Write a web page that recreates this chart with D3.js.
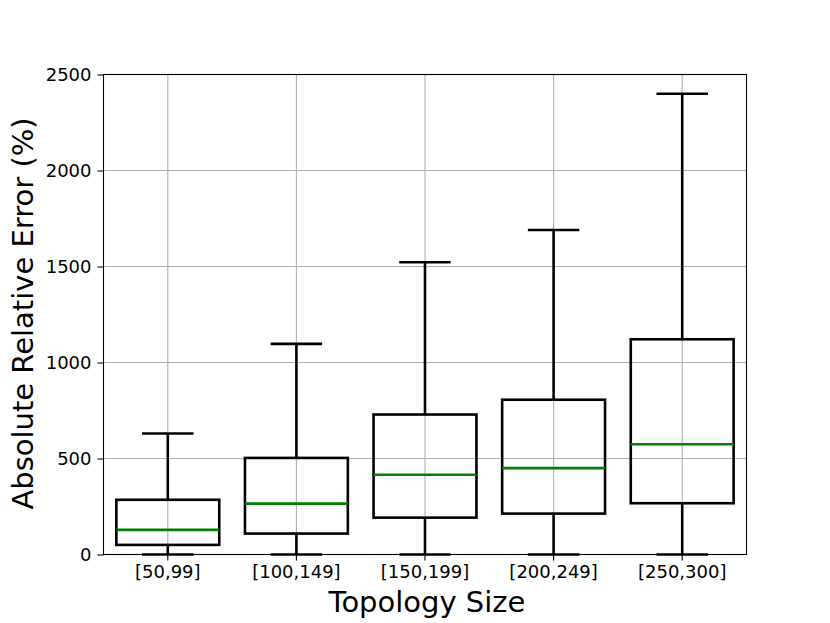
<!DOCTYPE html>
<html>
<head>
<meta charset="utf-8">
<script src="https://cdn.jsdelivr.net/npm/d3@7"></script>
<style>
    body { margin: 0; background: #fff; }
    text { font-family: "DejaVu Sans", sans-serif; fill: #000; }
</style>
</head>
<body>
<svg id="chart" width="830" height="623"></svg>
<script>
    // box stats
    const categories = ["[50,99]", "[100,149]", "[150,199]", "[200,249]", "[250,300]"];
    const whiskerLow = [0, 0, 0, 0, 0];
    const q1 = [50, 109, 192, 213, 267];
    const median = [128, 265, 415, 450, 574];
    const q3 = [285, 503, 729, 806, 1121];
    const whiskerHigh = [630, 1097, 1522, 1690, 2400];
    const yTicks = [0, 500, 1000, 1500, 2000, 2500];

    const boxes = categories.map((c, i) => ({
        cat: c,
        lo: whiskerLow[i],
        q1: q1[i],
        med: median[i],
        q3: q3[i],
        hi: whiskerHigh[i],
    }));

    const margin = { top: 74.5, right: 83.5, bottom: 68.5, left: 103.5 };
    const width = 830 - margin.left - margin.right;
    const height = 623 - margin.top - margin.bottom;

    const svg = d3.select("#chart");
    const g = svg.append("g")
        .attr("transform", `translate(${margin.left},${margin.top})`);

    const x = d3.scaleBand()
        .domain(categories)
        .range([0, width])
        .paddingInner(0.2)
        .paddingOuter(0.1);

    const y = d3.scaleLinear()
        .domain([0, 2500])
        .range([height, 0]);

    const cx = (d) => x(d.cat) + x.bandwidth() / 2;
    const capHalf = x.bandwidth() / 4;

    // grid
    g.append("g")
        .selectAll("line.hgrid")
        .data(yTicks)
        .enter()
        .append("line")
        .attr("x1", 0)
        .attr("x2", width)
        .attr("y1", (d) => y(d))
        .attr("y2", (d) => y(d))
        .attr("stroke", "#b0b0b0")
        .attr("stroke-width", 1.1);

    g.append("g")
        .selectAll("line.vgrid")
        .data(categories)
        .enter()
        .append("line")
        .attr("x1", (d) => x(d) + x.bandwidth() / 2)
        .attr("x2", (d) => x(d) + x.bandwidth() / 2)
        .attr("y1", 0)
        .attr("y2", height)
        .attr("stroke", "#b0b0b0")
        .attr("stroke-width", 1.1);

    // boxes
    const bx = g.append("g")
        .selectAll("g.box")
        .data(boxes)
        .enter()
        .append("g")
        .attr("class", "box");

    // whiskers
    bx.append("line")
        .attr("x1", cx).attr("x2", cx)
        .attr("y1", (d) => y(d.q3)).attr("y2", (d) => y(d.hi))
        .attr("stroke", "#000").attr("stroke-width", 2.6);
    bx.append("line")
        .attr("x1", cx).attr("x2", cx)
        .attr("y1", (d) => y(d.q1)).attr("y2", (d) => y(d.lo))
        .attr("stroke", "#000").attr("stroke-width", 2.6);

    // caps
    bx.append("line")
        .attr("x1", (d) => cx(d) - capHalf).attr("x2", (d) => cx(d) + capHalf)
        .attr("y1", (d) => y(d.hi)).attr("y2", (d) => y(d.hi))
        .attr("stroke", "#000").attr("stroke-width", 2.6);
    bx.append("line")
        .attr("x1", (d) => cx(d) - capHalf).attr("x2", (d) => cx(d) + capHalf)
        .attr("y1", (d) => y(d.lo)).attr("y2", (d) => y(d.lo))
        .attr("stroke", "#000").attr("stroke-width", 2.6);

    bx.append("rect")
        .attr("x", (d) => x(d.cat))
        .attr("width", x.bandwidth())
        .attr("y", (d) => y(d.q3))
        .attr("height", (d) => y(d.q1) - y(d.q3))
        .attr("fill", "none")
        .attr("stroke", "#000")
        .attr("stroke-width", 2.6);

    bx.append("line")
        .attr("x1", (d) => x(d.cat)).attr("x2", (d) => x(d.cat) + x.bandwidth())
        .attr("y1", (d) => y(d.med)).attr("y2", (d) => y(d.med))
        .attr("stroke", "#008000").attr("stroke-width", 2.6);

    // axes
    const xAxis = g.append("g")
        .attr("transform", `translate(0,${height})`)
        .call(d3.axisBottom(x).tickSize(6).tickPadding(5).tickSizeOuter(0));
    const yAxis = g.append("g")
        .call(d3.axisLeft(y).tickValues(yTicks).tickFormat(d3.format("d"))
            .tickSize(6).tickPadding(6).tickSizeOuter(0));

    [xAxis, yAxis].forEach((a) => {
        a.select(".domain").remove();
        a.selectAll(".tick line").attr("stroke", "#000").attr("stroke-width", 1.1);
        a.selectAll(".tick text")
            .attr("font-family", "DejaVu Sans, sans-serif")
            .attr("font-size", 18)
            .attr("fill", "#000");
    });

    // frame
    g.append("rect")
        .attr("x", 0).attr("y", 0)
        .attr("width", width).attr("height", height)
        .attr("fill", "none")
        .attr("stroke", "#000")
        .attr("stroke-width", 1.1);

    // axis titles
    svg.append("text")
        .attr("x", margin.left + width / 2 + 2)
        .attr("y", 612)
        .attr("text-anchor", "middle")
        .attr("font-size", 29)
        .text("Topology Size");

    svg.append("text")
        .attr("transform", `translate(33,${margin.top + height / 2 - 1}) rotate(-90)`)
        .attr("text-anchor", "middle")
        .attr("font-size", 29)
        .text("Absolute Relative Error (%)");
</script>
</body>
</html>
